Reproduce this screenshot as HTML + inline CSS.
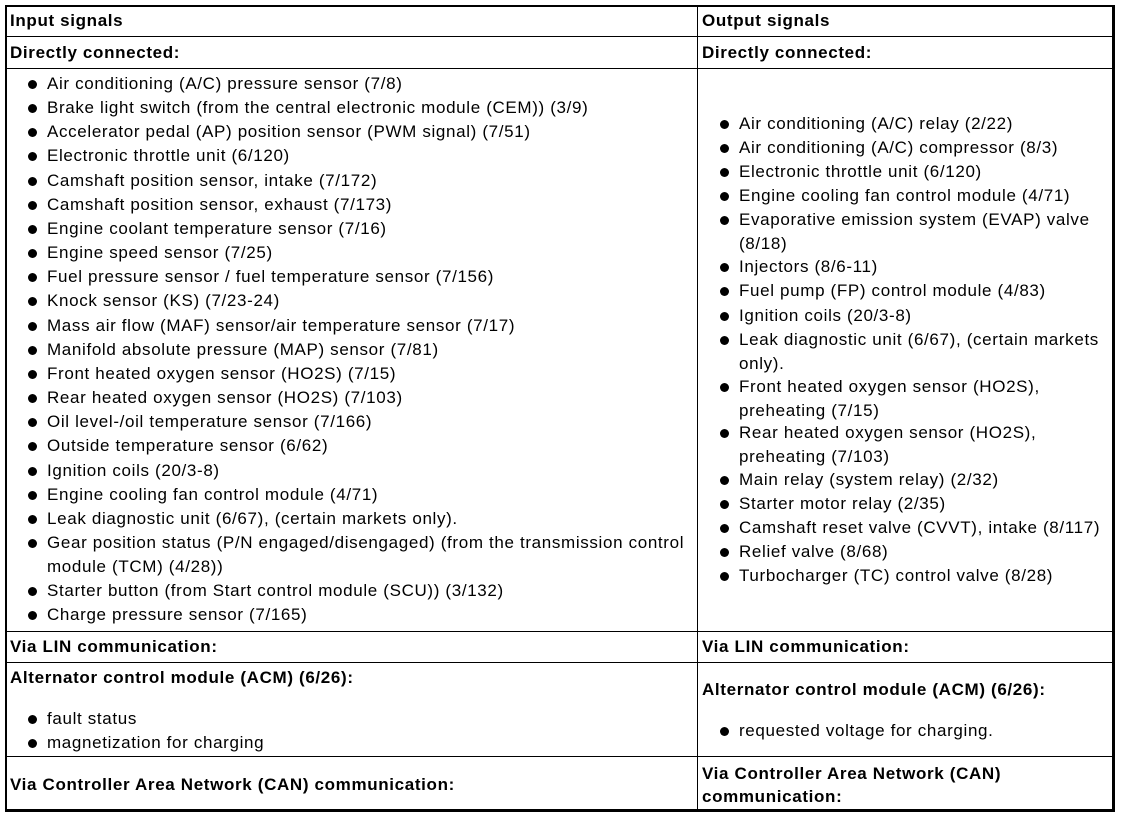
<!DOCTYPE html>
<html><head><style>
body{margin:0;background:#fff;width:1136px;height:818px;position:relative;font-family:"Liberation Sans",Arial,sans-serif;font-size:17px;color:#000;overflow:hidden}
.b{position:absolute;background:#000}
.t{position:absolute;line-height:24px;white-space:nowrap}
.h{font-weight:bold;letter-spacing:0.65px}
.li{position:absolute;line-height:24px;white-space:nowrap;letter-spacing:0.65px}
.li:before{content:"";position:absolute;width:9px;height:9px;border-radius:50%;background:#000;left:-19px;top:8px}
</style></head><body>
<div class="b" style="left:5px;top:5px;width:1110px;height:2px"></div>
<div class="b" style="left:5px;top:809px;width:1110px;height:3px"></div>
<div class="b" style="left:5px;top:5px;width:2px;height:807px"></div>
<div class="b" style="left:1112px;top:5px;width:3px;height:807px"></div>
<div class="b" style="left:697px;top:5px;width:1px;height:806px"></div>
<div class="b" style="left:5px;top:36px;width:1110px;height:1px"></div>
<div class="b" style="left:5px;top:68px;width:1110px;height:1px"></div>
<div class="b" style="left:5px;top:631px;width:1110px;height:1px"></div>
<div class="b" style="left:5px;top:662px;width:1110px;height:1px"></div>
<div class="b" style="left:5px;top:756px;width:1110px;height:1px"></div>

<div class="t h" style="left:10px;top:9px">Input signals</div>
<div class="t h" style="left:702px;top:9px">Output signals</div>
<div class="t h" style="left:10px;top:41px">Directly connected:</div>
<div class="t h" style="left:702px;top:41px">Directly connected:</div>

<div class="li" style="left:47px;top:72px">Air conditioning (A/C) pressure sensor (7/8)</div>
<div class="li" style="left:47px;top:96px">Brake light switch (from the central electronic module (CEM)) (3/9)</div>
<div class="li" style="left:47px;top:120px">Accelerator pedal (AP) position sensor (PWM signal) (7/51)</div>
<div class="li" style="left:47px;top:144px">Electronic throttle unit (6/120)</div>
<div class="li" style="left:47px;top:169px">Camshaft position sensor, intake (7/172)</div>
<div class="li" style="left:47px;top:193px">Camshaft position sensor, exhaust (7/173)</div>
<div class="li" style="left:47px;top:217px">Engine coolant temperature sensor (7/16)</div>
<div class="li" style="left:47px;top:241px">Engine speed sensor (7/25)</div>
<div class="li" style="left:47px;top:265px">Fuel pressure sensor / fuel temperature sensor (7/156)</div>
<div class="li" style="left:47px;top:289px">Knock sensor (KS) (7/23-24)</div>
<div class="li" style="left:47px;top:314px">Mass air flow (MAF) sensor/air temperature sensor (7/17)</div>
<div class="li" style="left:47px;top:338px">Manifold absolute pressure (MAP) sensor (7/81)</div>
<div class="li" style="left:47px;top:362px">Front heated oxygen sensor (HO2S) (7/15)</div>
<div class="li" style="left:47px;top:386px">Rear heated oxygen sensor (HO2S) (7/103)</div>
<div class="li" style="left:47px;top:410px">Oil level-/oil temperature sensor (7/166)</div>
<div class="li" style="left:47px;top:434px">Outside temperature sensor (6/62)</div>
<div class="li" style="left:47px;top:459px">Ignition coils (20/3-8)</div>
<div class="li" style="left:47px;top:483px">Engine cooling fan control module (4/71)</div>
<div class="li" style="left:47px;top:507px">Leak diagnostic unit (6/67), (certain markets only).</div>
<div class="li" style="left:47px;top:531px">Gear position status (P/N engaged/disengaged) (from the transmission control<br>module (TCM) (4/28))</div>
<div class="li" style="left:47px;top:579px">Starter button (from Start control module (SCU)) (3/132)</div>
<div class="li" style="left:47px;top:603px">Charge pressure sensor (7/165)</div>

<div class="li" style="left:739px;top:112px">Air conditioning (A/C) relay (2/22)</div>
<div class="li" style="left:739px;top:136px">Air conditioning (A/C) compressor (8/3)</div>
<div class="li" style="left:739px;top:160px">Electronic throttle unit (6/120)</div>
<div class="li" style="left:739px;top:184px">Engine cooling fan control module (4/71)</div>
<div class="li" style="left:739px;top:208px">Evaporative emission system (EVAP) valve<br>(8/18)</div>
<div class="li" style="left:739px;top:255px">Injectors (8/6-11)</div>
<div class="li" style="left:739px;top:279px">Fuel pump (FP) control module (4/83)</div>
<div class="li" style="left:739px;top:304px">Ignition coils (20/3-8)</div>
<div class="li" style="left:739px;top:328px">Leak diagnostic unit (6/67), (certain markets<br>only).</div>
<div class="li" style="left:739px;top:375px">Front heated oxygen sensor (HO2S),<br>preheating (7/15)</div>
<div class="li" style="left:739px;top:421px">Rear heated oxygen sensor (HO2S),<br>preheating (7/103)</div>
<div class="li" style="left:739px;top:468px">Main relay (system relay) (2/32)</div>
<div class="li" style="left:739px;top:492px">Starter motor relay (2/35)</div>
<div class="li" style="left:739px;top:516px">Camshaft reset valve (CVVT), intake (8/117)</div>
<div class="li" style="left:739px;top:540px">Relief valve (8/68)</div>
<div class="li" style="left:739px;top:564px">Turbocharger (TC) control valve (8/28)</div>

<div class="t h" style="left:10px;top:635px">Via LIN communication:</div>
<div class="t h" style="left:702px;top:635px">Via LIN communication:</div>
<div class="t h" style="left:10px;top:666px">Alternator control module (ACM) (6/26):</div>
<div class="li" style="left:47px;top:707px">fault status</div>
<div class="li" style="left:47px;top:731px">magnetization for charging</div>
<div class="t h" style="left:702px;top:678px">Alternator control module (ACM) (6/26):</div>
<div class="li" style="left:739px;top:719px">requested voltage for charging.</div>
<div class="t h" style="left:10px;top:773px">Via Controller Area Network (CAN) communication:</div>
<div class="t h" style="left:702px;top:762px;line-height:23px">Via Controller Area Network (CAN)<br>communication:</div>
</body></html>
